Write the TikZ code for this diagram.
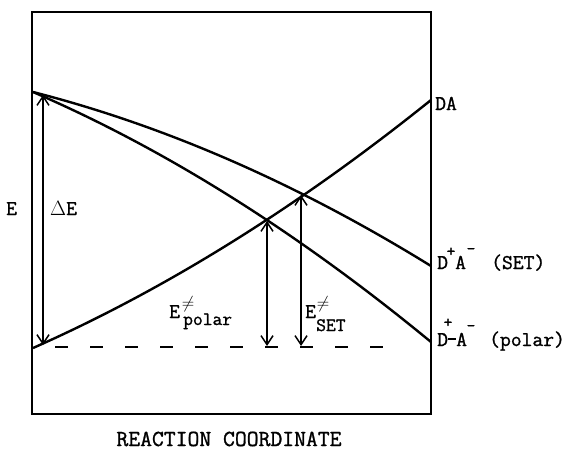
\documentclass[tikz,border=0pt]{standalone}
\usepackage{fontspec}
\setmainfont{Latin Modern Mono}[FakeBold=1.2]
\usetikzlibrary{arrows.meta}
\begin{document}
\begin{tikzpicture}[x=1pt,y=-1pt,
  curve/.style={line width=2.4pt},
  frame/.style={line width=2pt},
  dbl/.style={line width=1.5pt,{Straight Barb[length=9pt,width=12pt,line width=1.5pt]}-{Straight Barb[length=9pt,width=12pt,line width=1.5pt]}},
  base/.style={line width=1.5pt,dash pattern=on 13pt off 22pt},
  lbl/.style={inner sep=0pt,anchor=base west,font=\fontsize{21}{24}\selectfont},
  sub/.style={inner sep=0pt,anchor=base west,font=\fontsize{19}{22}\selectfont},
  ne/.style={inner sep=0pt,font=\fontsize{16}{16}\selectfont},
  chg/.style={inner sep=0pt,font=\fontsize{17}{17}\selectfont\bfseries}]
\useasboundingbox (0,0) rectangle (585,450);
% frame
\draw[frame] (32,12) rectangle (431,414);
% curve end points
\coordinate (top) at (33,92);
\coordinate (bot) at (33,348);
\coordinate (daend) at (431,100);
\coordinate (setend) at (431,266);
\coordinate (polend) at (431,342);
% curves (quadratic shapes written as cubics)
\draw[curve] (top) .. controls (165.7,126) and (298.3,184) .. (setend);
\draw[curve] (top) .. controls (165.7,149.3) and (298.3,232.7) .. (polend);
\draw[curve] (bot) .. controls (165.7,289.3) and (298.3,206.7) .. (daend);
% crossing points
\coordinate (xpol) at (267,221);
\coordinate (xset) at (301,195);
% baseline
\coordinate (b1) at (55,347);
\coordinate (b2) at (390,347);
\draw[base] (b1) -- (b2);
% arrows
\coordinate (de1) at (43,95);
\coordinate (de2) at (43,345);
\draw[dbl] (de1) -- (de2);
\coordinate (p2) at (267,346);
\draw[dbl] (xpol) -- (p2);
\coordinate (s2) at (301,346);
\draw[dbl] (xset) -- (s2);
% axis labels
\node[lbl] (E) at (6,215) {E};
\node[lbl] (dE) at (50,215) {$\Delta$E};
% barrier labels
\node[lbl] (Ep) at (169,318) {E};
\node[ne] (Epn) at (188,304) {$\neq$};
\node[sub] (Eps) at (183,325) {polar};
\node[lbl] (Es) at (305,318) {E};
\node[ne] (Esn) at (323,304) {$\neq$};
\node[sub] (Ess) at (316,331) {SET};
% state labels
\node[lbl] (DA) at (435,110) {DA};
\node[lbl] (D1) at (437,269) {D};
\node[chg] (p1) at (451,252) {+};
\node[lbl] (A1) at (455,269) {A};
\node[chg] (m1) at (471,251) {-};
\node[lbl] (set) at (491,269) {(SET)};
\node[lbl] (D2) at (437,346) {D};
\node[chg] (p2c) at (448,323) {+};
\node[lbl] (A2) at (456,346) {A};
\node[chg] (m2) at (471,328) {-};
\node[lbl] (pol) at (489,346) {(polar)};
\draw[line width=1.5pt] (D2.east |- 0,339) -- (A2.west |- 0,339);
% axis title
\node[inner sep=0pt,anchor=base,font=\fontsize{23}{26}\selectfont] (rc) at (229,446) {REACTION COORDINATE};
\end{tikzpicture}
\end{document}
